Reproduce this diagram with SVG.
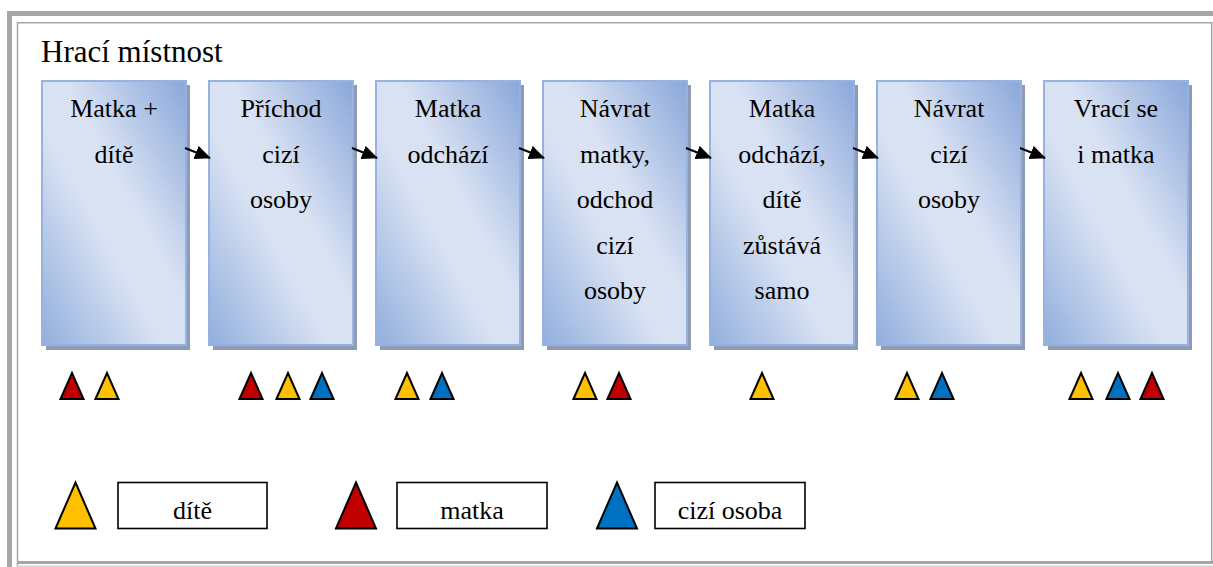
<svg xmlns="http://www.w3.org/2000/svg" width="1213" height="567" viewBox="0 0 1213 567">
  <defs>
    <linearGradient id="boxFill" x1="1" y1="0" x2="0" y2="1">
      <stop offset="0" stop-color="#8aa7da"/>
      <stop offset="0.42" stop-color="#d9e2f3"/>
      <stop offset="0.58" stop-color="#d9e2f3"/>
      <stop offset="1" stop-color="#91aedd"/>
    </linearGradient>
    <marker id="arrowHead" markerUnits="userSpaceOnUse" markerWidth="16" markerHeight="14" refX="15" refY="7" orient="auto">
      <path d="M0,0 L16,7 L0,14 Z" fill="#000"/>
    </marker>
    <polygon id="triSmall" points="-11.5,13 0,-13 11.5,13"/>
    <polygon id="triLarge" points="-20,23 0,-23 20,23"/>
  </defs>
  <style>
    .frame { fill: #a6a6a6; }
    .frameLine { fill: none; stroke: #a6a6a6; stroke-width: 1.5; }
    .shadow { fill: #8d9bb6; }
    .box { fill: url(#boxFill); stroke: #98b2df; stroke-width: 2; }
    text { font-family: "Liberation Serif", "Times New Roman", serif; fill: #000; }
    .label { font-size: 26px; text-anchor: middle; }
    .title { font-size: 31px; }
    .conn { stroke: #000; stroke-width: 2; fill: none; marker-end: url(#arrowHead); }
    .tri { stroke: #000; stroke-width: 2; stroke-linejoin: miter; }
    .red { fill: #c00000; }
    .yellow { fill: #ffc000; }
    .blue { fill: #0070c0; }
    .key { fill: #fff; stroke: #000; stroke-width: 1.6; }
  </style>

  <rect width="1213" height="567" fill="#fff"/>

  <!-- page frame -->
  <g id="frame">
    <rect class="frame" x="7" y="11" width="1206" height="5"/>
    <rect class="frame" x="7" y="11" width="5" height="556"/>
    <path class="frameLine" d="M17.5,567 V22.75 H1211.75 V562"/>
    <rect class="frame" x="17" y="561" width="1196" height="3"/>
    <rect x="17" y="565.5" width="1196" height="1.5" fill="#d4d4d4"/>
  </g>

  <text class="title" x="41" y="62">Hrací místnost</text>

  <!-- steps -->
  <g id="step1">
    <rect class="shadow" x="46" y="85" width="144" height="265"/>
    <rect class="box" x="42" y="81" width="144" height="264"/>
    <text class="label" x="114" y="117">Matka +</text>
    <text class="label" x="114" y="162.5">dítě</text>
  </g>
  <g id="step2">
    <rect class="shadow" x="213" y="85" width="144" height="265"/>
    <rect class="box" x="209" y="81" width="144" height="264"/>
    <text class="label" x="281" y="117">Příchod</text>
    <text class="label" x="281" y="162.5">cizí</text>
    <text class="label" x="281" y="208">osoby</text>
  </g>
  <g id="step3">
    <rect class="shadow" x="380" y="85" width="144" height="265"/>
    <rect class="box" x="376" y="81" width="144" height="264"/>
    <text class="label" x="448" y="117">Matka</text>
    <text class="label" x="448" y="162.5">odchází</text>
  </g>
  <g id="step4">
    <rect class="shadow" x="547" y="85" width="144" height="265"/>
    <rect class="box" x="543" y="81" width="144" height="264"/>
    <text class="label" x="615" y="117">Návrat</text>
    <text class="label" x="615" y="162.5">matky,</text>
    <text class="label" x="615" y="208">odchod</text>
    <text class="label" x="615" y="253.5">cizí</text>
    <text class="label" x="615" y="299">osoby</text>
  </g>
  <g id="step5">
    <rect class="shadow" x="714" y="85" width="144" height="265"/>
    <rect class="box" x="710" y="81" width="144" height="264"/>
    <text class="label" x="782" y="117">Matka</text>
    <text class="label" x="782" y="162.5">odchází,</text>
    <text class="label" x="782" y="208">dítě</text>
    <text class="label" x="782" y="253.5">zůstává</text>
    <text class="label" x="782" y="299">samo</text>
  </g>
  <g id="step6">
    <rect class="shadow" x="881" y="85" width="144" height="265"/>
    <rect class="box" x="877" y="81" width="144" height="264"/>
    <text class="label" x="949" y="117">Návrat</text>
    <text class="label" x="949" y="162.5">cizí</text>
    <text class="label" x="949" y="208">osoby</text>
  </g>
  <g id="step7">
    <rect class="shadow" x="1048" y="85" width="144" height="265"/>
    <rect class="box" x="1044" y="81" width="144" height="264"/>
    <text class="label" x="1116" y="117">Vrací se</text>
    <text class="label" x="1116" y="162.5">i matka</text>
  </g>

  <!-- transitions between steps -->
  <g id="connectors">
    <line class="conn" x1="185" y1="148" x2="210" y2="158"/>
    <line class="conn" x1="352" y1="148" x2="377" y2="158"/>
    <line class="conn" x1="519" y1="148" x2="544" y2="158"/>
    <line class="conn" x1="686" y1="148" x2="711" y2="158"/>
    <line class="conn" x1="853" y1="148" x2="878" y2="158"/>
    <line class="conn" x1="1020" y1="148" x2="1045" y2="158"/>
  </g>

  <!-- who is present in each step -->
  <g id="presence">
    <use href="#triSmall" class="tri red" x="72" y="386"/>
    <use href="#triSmall" class="tri yellow" x="107" y="386"/>

    <use href="#triSmall" class="tri red" x="251" y="386"/>
    <use href="#triSmall" class="tri yellow" x="288" y="386"/>
    <use href="#triSmall" class="tri blue" x="322" y="386"/>

    <use href="#triSmall" class="tri yellow" x="407" y="386"/>
    <use href="#triSmall" class="tri blue" x="442" y="386"/>

    <use href="#triSmall" class="tri yellow" x="585" y="386"/>
    <use href="#triSmall" class="tri red" x="619" y="386"/>

    <use href="#triSmall" class="tri yellow" x="762" y="386"/>

    <use href="#triSmall" class="tri yellow" x="907" y="386"/>
    <use href="#triSmall" class="tri blue" x="942" y="386"/>

    <use href="#triSmall" class="tri yellow" x="1081" y="386"/>
    <use href="#triSmall" class="tri blue" x="1118" y="386"/>
    <use href="#triSmall" class="tri red" x="1152" y="386"/>
  </g>

  <!-- legend -->
  <g id="legend-child">
    <use href="#triLarge" class="tri yellow" x="75.5" y="505.5"/>
    <rect class="key" x="118" y="482.5" width="149" height="46"/>
    <text class="label" x="192.5" y="519">dítě</text>
  </g>
  <g id="legend-mother">
    <use href="#triLarge" class="tri red" x="356" y="505.5"/>
    <rect class="key" x="397" y="482.5" width="150" height="46"/>
    <text class="label" x="472" y="519">matka</text>
  </g>
  <g id="legend-stranger">
    <use href="#triLarge" class="tri blue" x="617" y="505.5"/>
    <rect class="key" x="655" y="482.5" width="150" height="46"/>
    <text class="label" x="730" y="519">cizí osoba</text>
  </g>
</svg>
